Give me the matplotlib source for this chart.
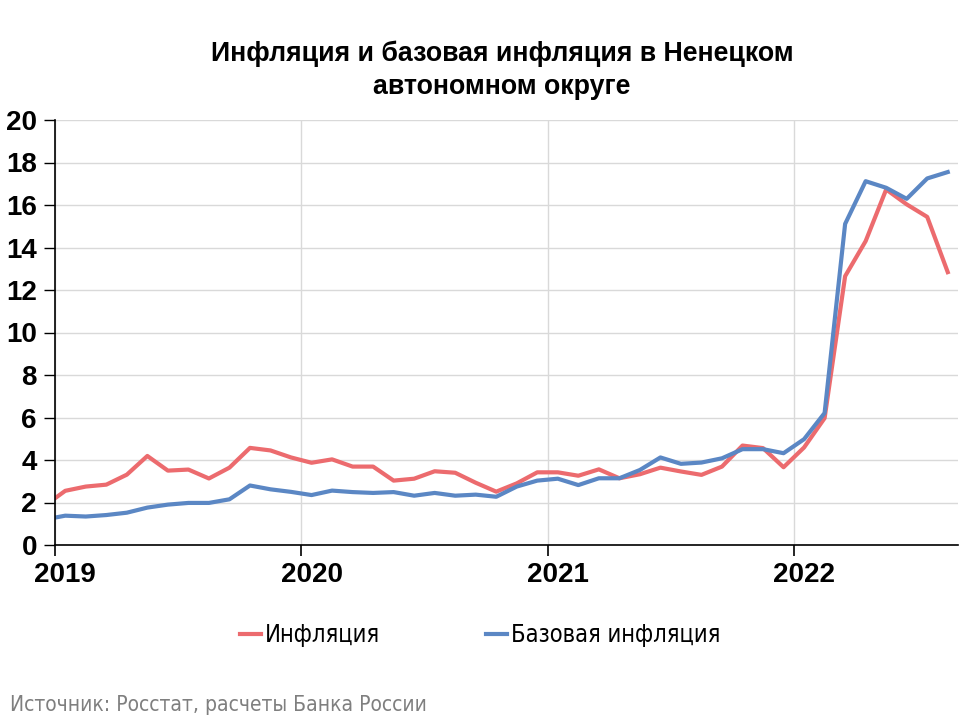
import matplotlib
matplotlib.use('Agg')
import matplotlib.pyplot as plt

# months from Dec 2018 to Aug 2022 (Dec 2018 sits left of the axis and is clipped)
months = ['2018-12'] + ['%d-%02d' % (y, m) for y in range(2019, 2023) for m in range(1, 13)][:44]

inflation = [1.85,
             2.55, 2.75, 2.84, 3.31, 4.19, 3.50, 3.55, 3.13, 3.64, 4.57, 4.45, 4.12,
             3.87, 4.03, 3.69, 3.69, 3.03, 3.12, 3.47, 3.40, 2.93, 2.51, 2.90, 3.42,
             3.42, 3.26, 3.56, 3.14, 3.33, 3.64, 3.46, 3.30, 3.69, 4.68, 4.56, 3.66,
             4.59, 5.97, 12.65, 14.30, 16.73, 16.03, 15.44, 12.84]
core = [1.20,
        1.38, 1.34, 1.41, 1.52, 1.76, 1.90, 1.98, 1.98, 2.15, 2.80, 2.62, 2.50,
        2.35, 2.56, 2.49, 2.45, 2.49, 2.32, 2.45, 2.32, 2.37, 2.27, 2.75, 3.03,
        3.12, 2.82, 3.14, 3.14, 3.53, 4.12, 3.82, 3.88, 4.08, 4.51, 4.51, 4.32,
        4.98, 6.21, 15.11, 17.12, 16.81, 16.29, 17.25, 17.55]

years = ['2019', '2020', '2021', '2022']
title = 'Инфляция и базовая инфляция в Ненецком\nавтономном округе'
source = 'Источник: Росстат, расчеты Банка России'

plt.rcParams['font.family'] = ['Liberation Sans', 'DejaVu Sans']

fig = plt.figure(figsize=(9.6, 7.2), dpi=100)
ax = fig.add_axes([55/960, 1-545/720, (958-55)/960, (545-120)/720])

x = [i - 0.5 for i in range(len(months))]
ax.plot(x, inflation, color='#ec6b6e', lw=3, label='Инфляция')
ax.plot(x, core, color='#5b87c4', lw=3, label='Базовая инфляция')

ax.set_xlim(0, 44)
ax.set_ylim(0, 20)
ax.set_yticks(range(0, 21, 2))
ax.set_xticks([0, 12, 24, 36])
ax.set_xticklabels([])
ax.set_xticks([0.5, 12.5, 24.5, 36.5], minor=True)
ax.set_xticklabels(years, minor=True, fontsize=20, fontweight='bold')
ax.tick_params(axis='x', which='minor', length=0, pad=12)
ax.tick_params(axis='x', which='major', length=8, width=1.2, direction='out')
ax.tick_params(axis='y', length=8, width=1, labelsize=20, pad=5)
for t in ax.get_yticklabels():
    t.set_fontweight('bold')

ax.grid(True, which='major', color='#d9d9d9', lw=1)
ax.set_axisbelow(True)
for s in ['top', 'right']:
    ax.spines[s].set_visible(False)
ax.spines['left'].set_linewidth(1.2)
ax.spines['bottom'].set_linewidth(1.2)

fig.text(0.523, 0.903, title, ha='center', va='center', fontsize=19.3, fontweight='bold', linespacing=1.35)

fig.legend(loc='center', bbox_to_anchor=(0.5, 1-635/720), ncol=2, frameon=False,
           prop={'family': 'DejaVu Sans', 'stretch': 'condensed', 'size': 17},
           handlelength=0.9, handletextpad=0.15, columnspacing=4.5)

fig.text(10/960, 1-705/720, source, ha='left', va='center', fontsize=15, color='#7f7f7f',
         family='DejaVu Sans', fontstretch='condensed')

fig.savefig('out.png', dpi=100)
